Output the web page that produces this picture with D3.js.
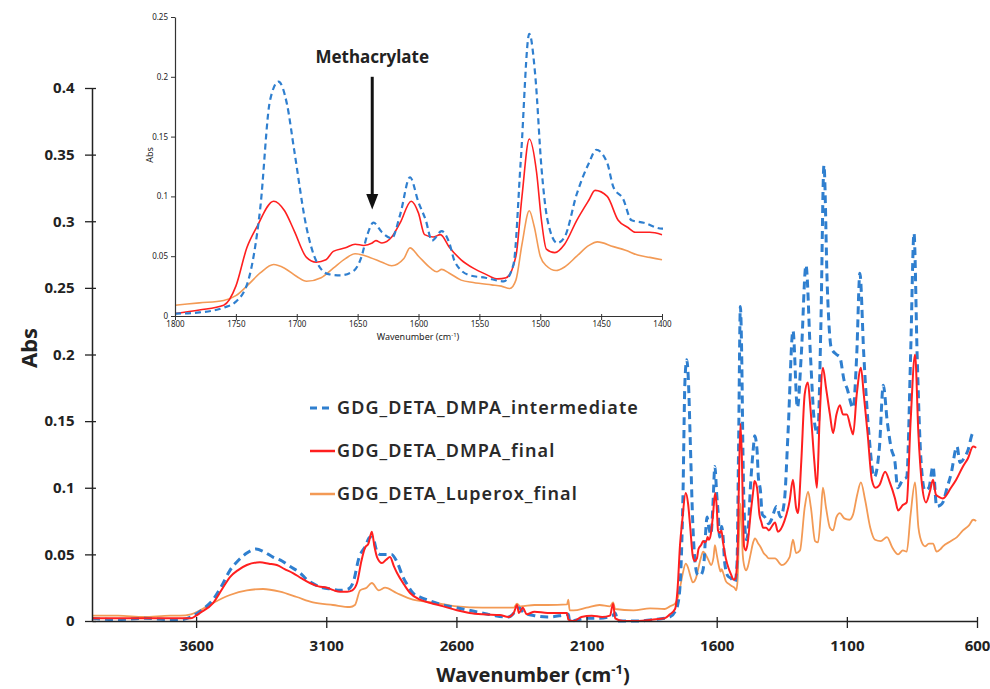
<!DOCTYPE html>
<html>
<head>
<meta charset="utf-8">
<script src="https://cdn.jsdelivr.net/npm/d3@7"></script>
<style>
  body { margin: 0; background: #fff; }
  text { font-family: "Noto Sans", "DejaVu Sans", sans-serif; }
</style>
</head>
<body>
<div id="vis"></div>
<script>
// spectra, [wavenumber, abs]
const intermediate = [
  [4000,0.002],[3900,0.001],[3800,0.002],[3700,0.001],[3660,0.001],[3620,0.003],[3580,0.008],[3535,0.016],
  [3500,0.027],[3470,0.038],[3440,0.045],[3405,0.051],[3370,0.054],[3340,0.052],[3305,0.048],[3270,0.045],
  [3240,0.041],[3200,0.036],[3174,0.031],[3140,0.027],[3113,0.025],[3080,0.024],[3047,0.023],[3015,0.024],
  [2995,0.030],[2975,0.047],[2950,0.056],[2932,0.063],[2920,0.062],[2905,0.052],[2893,0.050],[2870,0.050],
  [2850,0.050],[2830,0.045],[2805,0.033],[2785,0.026],[2767,0.021],[2740,0.018],[2700,0.015],[2650,0.012],
  [2600,0.010],[2550,0.008],[2500,0.006],[2450,0.004],[2400,0.003],[2370,0.008],[2360,0.010],[2340,0.006],
  [2300,0.004],[2250,0.003],[2200,0.004],[2170,0.005],[2165,0.000],[2100,0.002],[2050,0.002],[2000,0.004],
  [1990,0.006],[1980,0.000],[1900,0.000],[1850,0.001],[1800,0.002],[1780,0.003],[1760,0.007],[1750,0.012],
  [1740,0.029],[1730,0.090],[1722,0.180],[1715,0.196],[1708,0.177],[1702,0.138],[1692,0.074],[1684,0.046],
  [1674,0.035],[1664,0.034],[1653,0.038],[1647,0.049],[1642,0.068],[1637,0.078],[1630,0.070],[1622,0.065],
  [1615,0.085],[1607,0.116],[1600,0.095],[1594,0.080],[1589,0.063],[1581,0.071],[1575,0.062],[1570,0.045],
  [1558,0.034],[1545,0.032],[1530,0.029],[1522,0.043],[1516,0.130],[1509,0.236],[1504,0.200],[1499,0.124],
  [1494,0.080],[1486,0.061],[1480,0.066],[1470,0.102],[1460,0.128],[1454,0.139],[1445,0.128],[1440,0.108],
  [1432,0.098],[1425,0.080],[1415,0.078],[1400,0.073],[1390,0.076],[1370,0.086],[1355,0.078],[1340,0.090],
  [1326,0.141],[1307,0.218],[1290,0.160],[1275,0.200],[1257,0.267],[1240,0.200],[1225,0.150],[1212,0.140],
  [1200,0.220],[1188,0.342],[1175,0.250],[1160,0.205],[1140,0.200],[1127,0.198],[1110,0.180],[1100,0.175],
  [1076,0.160],[1062,0.200],[1050,0.261],[1035,0.200],[1015,0.140],[995,0.108],[975,0.130],[960,0.177],
  [945,0.150],[930,0.130],[915,0.119],[905,0.100],[885,0.106],[870,0.108],[855,0.200],[842,0.291],
  [830,0.200],[815,0.120],[800,0.098],[785,0.100],[769,0.116],[755,0.086],[740,0.087],[731,0.089],
  [715,0.100],[700,0.110],[677,0.131],[665,0.119],[650,0.122],[635,0.128],[615,0.141],[603,0.140]
];

const dmpaFinal = [
  [4000,0.002],[3900,0.002],[3800,0.002],[3700,0.002],[3650,0.002],[3620,0.002],[3600,0.004],[3585,0.006],
  [3535,0.0135],[3500,0.024],[3470,0.033],[3440,0.038],[3405,0.042],[3355,0.044],[3320,0.043],[3290,0.042],
  [3260,0.039],[3228,0.036],[3195,0.032],[3163,0.0285],[3130,0.026],[3097,0.025],[3070,0.023],[3047,0.022],
  [3020,0.022],[3000,0.023],[2982,0.0285],[2965,0.045],[2951,0.055],[2938,0.058],[2925,0.067],[2915,0.056],
  [2905,0.048],[2886,0.0435],[2870,0.046],[2855,0.048],[2840,0.041],[2828,0.036],[2800,0.027],[2778,0.021],
  [2740,0.016],[2690,0.013],[2650,0.011],[2598,0.008],[2550,0.006],[2500,0.005],[2433,0.0045],[2400,0.003],
  [2380,0.006],[2367,0.012],[2360,0.006],[2345,0.010],[2330,0.005],[2300,0.007],[2250,0.006],[2200,0.006],
  [2175,0.006],[2170,0.001],[2150,0.000],[2120,0.003],[2080,0.004],[2040,0.003],[2010,0.004],[1998,0.013],
  [1990,0.002],[1960,0.000],[1900,0.000],[1850,0.001],[1800,0.002],[1780,0.005],[1760,0.009],[1750,0.025],
  [1741,0.057],[1733,0.074],[1719,0.096],[1710,0.088],[1702,0.071],[1692,0.049],[1684,0.045],[1676,0.047],
  [1670,0.054],[1660,0.057],[1652,0.060],[1645,0.059],[1638,0.061],[1635,0.063],[1630,0.061],[1622,0.066],
  [1615,0.078],[1606,0.096],[1600,0.086],[1595,0.068],[1588,0.066],[1582,0.068],[1575,0.058],[1565,0.047],
  [1555,0.040],[1545,0.035],[1535,0.031],[1528,0.032],[1520,0.050],[1515,0.100],[1509,0.148],[1503,0.120],
  [1499,0.080],[1495,0.056],[1488,0.053],[1480,0.060],[1470,0.080],[1460,0.097],[1455,0.105],[1445,0.100],
  [1436,0.080],[1428,0.074],[1422,0.070],[1410,0.070],[1400,0.068],[1385,0.072],[1376,0.074],[1365,0.067],
  [1340,0.075],[1320,0.090],[1307,0.106],[1295,0.085],[1288,0.081],[1275,0.120],[1262,0.170],[1250,0.179],
  [1240,0.160],[1225,0.120],[1215,0.100],[1205,0.150],[1192,0.190],[1180,0.175],[1165,0.155],[1153,0.141],
  [1140,0.155],[1127,0.162],[1115,0.155],[1100,0.155],[1085,0.145],[1076,0.140],[1062,0.170],[1046,0.190],
  [1035,0.170],[1020,0.140],[1004,0.106],[990,0.100],[975,0.102],[953,0.112],[935,0.104],[915,0.092],
  [903,0.083],[885,0.087],[870,0.089],[855,0.150],[838,0.200],[825,0.140],[810,0.100],[796,0.089],
  [780,0.098],[769,0.106],[758,0.095],[745,0.093],[731,0.092],[700,0.100],[680,0.106],[654,0.116],
  [635,0.122],[615,0.131],[603,0.130]
];

const luperoxFinal = [
  [4000,0.004],[3900,0.004],[3800,0.003],[3700,0.004],[3660,0.004],[3620,0.005],[3585,0.008],[3535,0.0135],
  [3470,0.0195],[3405,0.023],[3343,0.024],[3278,0.022],[3213,0.018],[3151,0.014],[3074,0.012],[3009,0.0105],
  [2990,0.012],[2970,0.023],[2945,0.025],[2925,0.0285],[2898,0.023],[2874,0.025],[2830,0.021],[2767,0.016],
  [2690,0.014],[2598,0.011],[2500,0.010],[2433,0.010],[2380,0.010],[2367,0.013],[2355,0.011],[2300,0.012],
  [2250,0.012],[2175,0.0125],[2170,0.016],[2165,0.008],[2150,0.008],[2100,0.010],[2050,0.012],[2010,0.011],
  [1998,0.014],[1990,0.009],[1920,0.008],[1856,0.0095],[1800,0.009],[1780,0.011],[1760,0.013],[1750,0.017],
  [1740,0.026],[1730,0.036],[1719,0.043],[1710,0.040],[1700,0.033],[1692,0.029],[1680,0.032],[1670,0.040],
  [1660,0.048],[1652,0.052],[1640,0.049],[1630,0.045],[1622,0.042],[1612,0.048],[1607,0.057],[1600,0.050],
  [1590,0.040],[1585,0.037],[1581,0.039],[1575,0.036],[1565,0.030],[1555,0.028],[1540,0.026],[1532,0.025],
  [1525,0.023],[1520,0.030],[1515,0.060],[1509,0.088],[1505,0.075],[1500,0.050],[1495,0.042],[1487,0.038],
  [1480,0.041],[1470,0.050],[1460,0.059],[1453,0.062],[1440,0.058],[1430,0.055],[1420,0.051],[1410,0.049],
  [1400,0.047],[1376,0.047],[1350,0.042],[1320,0.048],[1307,0.061],[1295,0.051],[1280,0.053],[1262,0.085],
  [1249,0.097],[1238,0.085],[1222,0.060],[1211,0.059],[1200,0.080],[1192,0.100],[1180,0.085],[1165,0.070],
  [1153,0.068],[1140,0.078],[1127,0.081],[1110,0.077],[1090,0.076],[1076,0.080],[1060,0.095],[1046,0.104],
  [1030,0.091],[1010,0.070],[992,0.061],[970,0.060],[946,0.063],[925,0.055],[903,0.050],[885,0.053],
  [870,0.052],[855,0.080],[838,0.104],[825,0.070],[810,0.058],[800,0.056],[785,0.058],[769,0.058],
  [755,0.052],[740,0.054],[731,0.056],[700,0.060],[677,0.063],[654,0.068],[630,0.072],[615,0.076],[603,0.075]
];

const seriesNames = ["GDG_DETA_DMPA_intermediate", "GDG_DETA_DMPA_final", "GDG_DETA_Luperox_final"];
const seriesColors = ["#2f7fcf", "#ff1f1f", "#f39a55"];

const xTicks = [3600, 3100, 2600, 2100, 1600, 1100, 600];
const yTicks = [0, 0.05, 0.1, 0.15, 0.2, 0.25, 0.3, 0.35, 0.4];
const insetXTicks = [1800, 1750, 1700, 1650, 1600, 1550, 1500, 1450, 1400];
const insetYTicks = [0, 0.05, 0.1, 0.15, 0.2, 0.25];

const W = 990, H = 689;
const svg = d3.select("#vis").append("svg").attr("width", W).attr("height", H);

// ---- main plot ----
const X = d3.scaleLinear().domain([4000, 600]).range([92, 977]);
const Y = d3.scaleLinear().domain([0, 0.4]).range([621, 88]);

const line = d3.line().x(d => X(d[0])).y(d => Y(d[1])).curve(d3.curveMonotoneX);

const main = svg.append("g");
main.append("path").datum(luperoxFinal).attr("d", line)
  .attr("fill", "none").attr("stroke", seriesColors[2]).attr("stroke-width", 1.8);
main.append("path").datum(intermediate).attr("d", line)
  .attr("fill", "none").attr("stroke", seriesColors[0]).attr("stroke-width", 3)
  .attr("stroke-dasharray", "8,5");
main.append("path").datum(dmpaFinal).attr("d", line)
  .attr("fill", "none").attr("stroke", seriesColors[1]).attr("stroke-width", 2);

// x axis
const xAx = svg.append("g").attr("transform", "translate(0,621)");
xAx.call(d3.axisBottom(X).tickValues(d3.range(600, 4001, 100)).tickSize(4).tickFormat(""));
xAx.call(d3.axisBottom(X).tickValues(xTicks).tickSizeInner(7).tickSizeOuter(0).tickFormat(d3.format("d")));
xAx.selectAll(".domain").attr("stroke", "#222").attr("stroke-width", 1.5);
xAx.selectAll(".tick line").attr("stroke", "#222").attr("stroke-width", 1.3).attr("y1", -4);
xAx.selectAll(".tick text").attr("font-size", 15).attr("font-weight", "bold").attr("fill", "#222").attr("dy", "1.3em");

// y axis
const yAx = svg.append("g").attr("transform", "translate(92,0)");
yAx.call(d3.axisLeft(Y).tickValues(d3.range(0, 41).map(i => i / 100)).tickSize(4).tickFormat(""));
yAx.call(d3.axisLeft(Y).tickValues(yTicks).tickSizeInner(7).tickSizeOuter(0).tickFormat(d => d3.format("")(d)));
yAx.selectAll(".domain").attr("stroke", "#222").attr("stroke-width", 1.5);
yAx.selectAll(".tick line").attr("stroke", "#222").attr("stroke-width", 1.3).attr("x1", 4);
yAx.selectAll(".tick text").attr("font-size", 15).attr("font-weight", "bold").attr("fill", "#222").attr("dx", "-0.5em");

svg.append("text").attr("x", 533).attr("y", 682).attr("text-anchor", "middle")
  .attr("font-size", 20).attr("font-weight", "bold").attr("fill", "#222")
  .html('Wavenumber (cm<tspan font-size="13" dy="-8">-1</tspan><tspan dy="8">)</tspan>');
svg.append("text").attr("transform", "translate(37,348) rotate(-90)").attr("text-anchor", "middle")
  .attr("font-size", 22).attr("font-weight", "bold").attr("fill", "#222").text("Abs");

// legend
const legend = svg.append("g");
seriesNames.forEach((name, i) => {
  const ly = 408 + i * 43;
  const l = legend.append("line").attr("x1", 310).attr("x2", i === 0 ? 330 : 335)
    .attr("y1", ly).attr("y2", ly).attr("stroke", seriesColors[i])
    .attr("stroke-width", i === 0 ? 3 : 2.5);
  if (i === 0) l.attr("stroke-dasharray", "7,5");
  legend.append("text").attr("x", 337).attr("y", ly + 6).attr("font-size", 18)
    .attr("font-weight", 600).attr("letter-spacing", 1.1).attr("fill", "#2a2a2a").text(name);
});

// ---- inset ----
const XI = d3.scaleLinear().domain([1800, 1400]).range([175, 662]);
const YI = d3.scaleLinear().domain([0, 0.25]).range([316, 17]);
const inset = svg.append("g");
inset.append("rect").attr("x", 176).attr("y", 12).attr("width", 492).attr("height", 303).attr("fill", "#fff");
inset.append("clipPath").attr("id", "ic").append("rect")
  .attr("x", 175).attr("y", 10).attr("width", 488).attr("height", 306);

const lineI = d3.line().x(d => XI(d[0])).y(d => YI(d[1])).curve(d3.curveMonotoneX);
const inRange = arr => arr.filter(d => d[0] <= 1810 && d[0] >= 1390);
const ig = inset.append("g").attr("clip-path", "url(#ic)");
ig.append("path").datum(inRange(luperoxFinal)).attr("d", lineI)
  .attr("fill", "none").attr("stroke", seriesColors[2]).attr("stroke-width", 1.6);
ig.append("path").datum(inRange(dmpaFinal)).attr("d", lineI)
  .attr("fill", "none").attr("stroke", seriesColors[1]).attr("stroke-width", 1.6);
ig.append("path").datum(inRange(intermediate)).attr("d", lineI)
  .attr("fill", "none").attr("stroke", seriesColors[0]).attr("stroke-width", 2.2)
  .attr("stroke-dasharray", "6,4");

const ixAx = inset.append("g").attr("transform", "translate(0,316)");
ixAx.call(d3.axisBottom(XI).tickValues(d3.range(1400, 1801, 10)).tickSize(2).tickFormat(""));
ixAx.call(d3.axisBottom(XI).tickValues(insetXTicks).tickSizeInner(4).tickSizeOuter(0).tickFormat(d3.format("d")));
ixAx.selectAll(".domain").attr("stroke", "#333").attr("stroke-width", 1.2);
ixAx.selectAll(".tick line").attr("stroke", "#333").attr("y1", -2);
ixAx.selectAll(".tick text").attr("font-size", 8).attr("fill", "#222").attr("y", 5).attr("dy", "0.71em");

const iyAx = inset.append("g").attr("transform", "translate(175,0)");
iyAx.call(d3.axisLeft(YI).tickValues(d3.range(0, 26).map(i => i / 100)).tickSize(2).tickFormat(""));
iyAx.call(d3.axisLeft(YI).tickValues(insetYTicks).tickSizeInner(4).tickSizeOuter(0).tickFormat(d => d3.format("")(d)));
iyAx.selectAll(".domain").attr("stroke", "#333").attr("stroke-width", 1.2);
iyAx.selectAll(".tick line").attr("stroke", "#333");
iyAx.selectAll(".tick text").attr("font-size", 8).attr("fill", "#222");

inset.append("text").attr("x", 418).attr("y", 340).attr("text-anchor", "middle")
  .attr("font-size", 9).attr("fill", "#222")
  .html('Wavenumber (cm<tspan font-size="6" dy="-3">-1</tspan><tspan dy="3">)</tspan>');
inset.append("text").attr("transform", "translate(153,155) rotate(-90)").attr("text-anchor", "middle")
  .attr("font-size", 9).attr("fill", "#222").text("Abs");

// methacrylate annotation
const ax = XI(1638);
inset.append("text").attr("x", ax).attr("y", 63).attr("text-anchor", "middle")
  .attr("font-size", 17).attr("font-weight", "bold").attr("fill", "#222").text("Methacrylate");
inset.append("line").attr("x1", ax).attr("x2", ax).attr("y1", YI(0.2)).attr("y2", YI(0.1))
  .attr("stroke", "#111").attr("stroke-width", 3);
inset.append("path")
  .attr("d", `M${ax - 6},${YI(0.102)} L${ax + 6},${YI(0.102)} L${ax},${YI(0.089)} Z`)
  .attr("fill", "#111");
</script>
</body>
</html>
